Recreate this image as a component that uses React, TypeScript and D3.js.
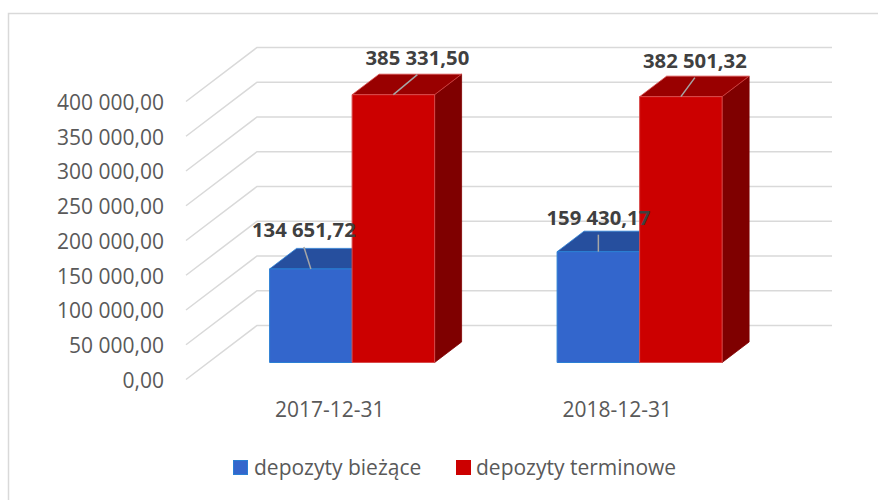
import React from "react";
import * as d3 from "d3";

const categories = ["2017-12-31", "2018-12-31"];
const seriesNames = ["depozyty bieżące", "depozyty terminowe"];
const biezace = [134651.72, 159430.17];
const terminowe = [385331.5, 382501.32];
const yTicks = [0, 50000, 100000, 150000, 200000, 250000, 300000, 350000, 400000];

// layout / style (not data)
const W = 878;
const H = 500;
const FRONT_LEFT = 186;
const FRONT_RIGHT = 761;
const DX = 71; // full depth x offset
const DY = 54; // full depth y offset
const Z0 = 0.315;
const Z1 = 0.695;
const FONT = "'Open Sans', 'Liberation Sans', sans-serif";
const TEXT_COLOR = "#595959";
const LABEL_COLOR = "#404040";
const GRID = "#d9d9d9";
const FS = 21;
const faces = [
  { front: "#3366CC", top: "#264F9E", side: "#1F3F80", stroke: "#2A7FD4" },
  { front: "#CC0000", top: "#990000", side: "#7F0000", stroke: "#D84A4A" },
];
const labelNudge = [
  [[-7, -39], [0, -34]],
  [[24, -37], [14, -36]],
];

const loc = d3.formatLocale({
  decimal: ",",
  thousands: "\u00a0",
  grouping: [3],
  currency: ["", ""],
});
const fmt = loc.format(",.2f");

export default function App() {
  const series = [biezace, terminowe];
  const x0 = d3
    .scaleBand<string>()
    .domain(categories)
    .range([FRONT_LEFT, FRONT_RIGHT])
    .paddingInner(0.426)
    .paddingOuter(0.213);
  const x1 = d3
    .scaleBand<string>()
    .domain(seriesNames)
    .range([0, x0.bandwidth()])
    .padding(0);
  const y = d3.scaleLinear().domain([0, 400000]).range([379.5, 101.5]);

  const P = (x: number, yy: number, z: number) => [x + z * DX, yy - z * DY];
  const pts = (arr: number[][]) => arr.map((p) => p.join(",")).join(" ");

  const bars: React.ReactNode[] = [];
  const labels: React.ReactNode[] = [];
  categories.forEach((c, ci) => {
    seriesNames.forEach((s, si) => {
      const v = series[si][ci];
      const xa = (x0(c) as number) + (x1(s) as number);
      const xb = xa + x1.bandwidth();
      const yt = y(v);
      const yb = y(0);
      const f = faces[si];
      const front = [P(xa, yt, Z0), P(xb, yt, Z0), P(xb, yb, Z0), P(xa, yb, Z0)];
      const top = [P(xa, yt, Z0), P(xb, yt, Z0), P(xb, yt, Z1), P(xa, yt, Z1)];
      const side = [P(xb, yt, Z0), P(xb, yt, Z1), P(xb, yb, Z1), P(xb, yb, Z0)];
      bars.push(
        <g key={`b-${ci}-${si}`}>
          <polygon points={pts(side)} fill={f.side} stroke={f.side} strokeWidth={0.8} />
          <polygon points={pts(top)} fill={f.top} stroke={f.stroke} strokeWidth={0.8} strokeLinejoin="round" />
          <polygon points={pts(front)} fill={f.front} stroke={f.stroke} strokeWidth={1} />
        </g>
      );
      const tc = P((xa + xb) / 2, yt, Z0);
      const [nx, ny] = labelNudge[si][ci];
      const lx = tc[0] + nx;
      const ly = tc[1] + ny;
      labels.push(
        <g key={`l-${ci}-${si}`}>
          <line x1={lx} y1={ly + 17} x2={tc[0]} y2={tc[1]} stroke="#a6a6a6" strokeWidth={1.5} />
          <text
            x={lx}
            y={ly}
            dy="0.35em"
            textAnchor="middle"
            fontFamily={FONT}
            fontWeight="bold"
            fontSize={20.3}
            fill={LABEL_COLOR}
          >
            {fmt(v)}
          </text>
        </g>
      );
    });
  });

  return (
    <svg
      width={W}
      height={H}
      style={{ position: "absolute", left: 0, top: 0, background: "#fff" }}
    >
      <rect x={8.5} y={13.5} width={W + 20} height={H + 20} fill="#fff" stroke={GRID} strokeWidth={1.5} />
      {yTicks.map((t) => {
        const yf = y(t);
        const b = P(FRONT_LEFT, yf, 1);
        return (
          <g key={`g-${t}`}>
            <polyline
              points={pts([[FRONT_LEFT, yf], b, [FRONT_RIGHT + DX, b[1]]])}
              fill="none"
              stroke={GRID}
              strokeWidth={1.5}
            />
            <text
              x={164}
              y={yf + 1}
              dy="0.35em"
              textAnchor="end"
              fontFamily={FONT}
              fontSize={FS}
              fill={TEXT_COLOR}
            >
              {fmt(t)}
            </text>
          </g>
        );
      })}
      {bars}
      {labels}
      {categories.map((c) => (
        <text
          key={`x-${c}`}
          x={(x0(c) as number) + x0.bandwidth() / 2}
          y={410}
          dy="0.35em"
          textAnchor="middle"
          fontFamily={FONT}
          fontSize={FS}
          fill={TEXT_COLOR}
        >
          {c}
        </text>
      ))}
      <g>
        <rect x={233.5} y={460.5} width={14} height={14} fill={faces[0].front} stroke={faces[0].stroke} />
        <text x={254} y={468} dy="0.35em" fontFamily={FONT} fontSize={FS} fill={TEXT_COLOR}>
          {seriesNames[0]}
        </text>
        <rect x={456} y={460} width={15} height={15} fill={faces[1].front} />
        <text x={476} y={468} dy="0.35em" fontFamily={FONT} fontSize={FS} fill={TEXT_COLOR}>
          {seriesNames[1]}
        </text>
      </g>
    </svg>
  );
}
